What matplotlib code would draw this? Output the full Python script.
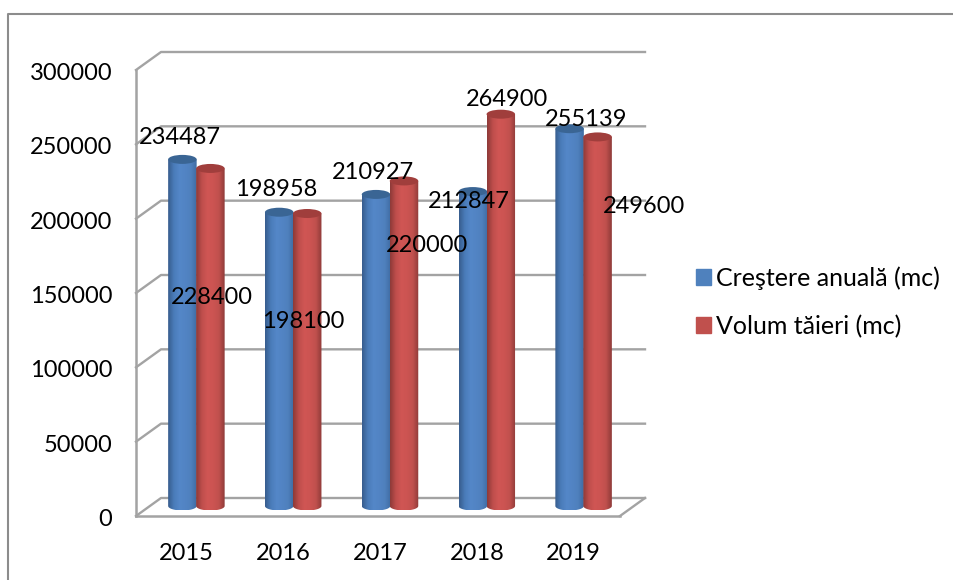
"""
3D-looking cylinder bar chart: annual growth vs. felled volume, 2015-2019.
"""
import numpy as np
import matplotlib
matplotlib.use("Agg")
import matplotlib.pyplot as plt
from matplotlib.colors import LinearSegmentedColormap
from matplotlib.lines import Line2D
from matplotlib.patches import Ellipse, Patch, Polygon
from matplotlib.transforms import ScaledTranslation

years = ["2015", "2016", "2017", "2018", "2019"]
crestere = [234487, 198958, 210927, 212847, 255139]
volum = [228400, 198100, 220000, 264900, 249600]
y_ticks = [0, 50000, 100000, 150000, 200000, 250000, 300000]
series_names = ["Creştere anuală (mc)", "Volum tăieri (mc)"]

# label offsets from the top of each cylinder, in pixels
crestere_offsets = [(-3, 22), (-3, 23), (-3, 22), (-4, -10), (17, 9)]
volum_offsets = [(1, -129), (-4, -108), (23, -65), (6, 15), (46, -70)]

W, H = 954, 580
GRID = "#a3a3a3"
FONT = "Lato"
FONT_SIZE = 17

plt.rcParams["font.family"] = [FONT, "DejaVu Sans"]

fig = plt.figure(figsize=(W / 100, H / 100), dpi=100)
ax = fig.add_axes([136 / W, 1 - 516 / H, 484 / W, 446 / H])
ax.set_xlim(-0.5, 4.5)
ax.set_ylim(0, 300000)

px_x = 5 / 484  # data units per pixel
px_y = 300000 / 446
depth_x, depth_y = 25 * px_x, 18 * px_y

# floor and walls
for tick in y_ticks:
    ax.plot([-0.5, -0.5 + depth_x, 4.5 + depth_x], [tick, tick + depth_y, tick + depth_y],
            color=GRID, lw=1.7, clip_on=False, zorder=1)
ax.plot([4.5, 4.5 + depth_x], [0, depth_y], color=GRID, lw=1.7, clip_on=False, zorder=1)


def cylinder(x, value, cmap, top_color, width=28.5 * px_x):
    # the top sits on the value scale, the foot is lifted a little off the floor
    base = 10 * px_y
    top = value + 8 * px_y
    rx, ry = width / 2, 4.5 * px_y
    t = np.linspace(np.pi, 2 * np.pi, 40)
    outline = np.column_stack([x + rx * np.cos(t), base + ry * np.sin(t)])
    outline = np.vstack([[x - rx, top], outline, [x + rx, top]])
    gradient = np.linspace(0, 1, 64).reshape(1, -1)
    im = ax.imshow(gradient, cmap=cmap, extent=[x - rx, x + rx, base - ry, top], aspect="auto", zorder=3)
    im.set_clip_path(Polygon(outline, closed=True, transform=ax.transData))
    ax.add_patch(Ellipse((x, top), width, 2 * ry, color=top_color, lw=0, zorder=3, clip_on=False))


blue_cmap = LinearSegmentedColormap.from_list("b", ["#375d8e", "#4a7cb9", "#5487c8", "#5284c4", "#4f80bd", "#3f6ca3"])
red_cmap = LinearSegmentedColormap.from_list("r", ["#8e3a38", "#bf4e4c", "#d05654", "#cc5452", "#c0504d", "#8f3b39"])

shift = 12 * px_x
half = 14 * px_x
for i, year in enumerate(years):
    cylinder(i + shift - half, crestere[i], blue_cmap, "#3a6594")
    cylinder(i + shift + half, volum[i], red_cmap, "#a03e3c")

for i in range(len(years)):
    ax.annotate(str(crestere[i]), (i + shift - half, crestere[i] + 8 * px_y), xytext=crestere_offsets[i],
                textcoords="offset pixels", ha="center", va="center", fontsize=FONT_SIZE, color="black",
                annotation_clip=False, zorder=5)
    ax.annotate(str(volum[i]), (i + shift + half, volum[i] + 8 * px_y), xytext=volum_offsets[i],
                textcoords="offset pixels", ha="center", va="center", fontsize=FONT_SIZE, color="black",
                annotation_clip=False, zorder=5)

ax.set_xticks(range(len(years)), years)
ax.set_yticks(y_ticks, [str(t) for t in y_ticks])
ax.tick_params(axis="both", length=0, labelsize=FONT_SIZE)
ax.tick_params(axis="y", pad=17)
ax.tick_params(axis="x", pad=19.5)
for lbl in ax.get_xticklabels():
    lbl.set_transform(lbl.get_transform() + ScaledTranslation(2 / 100, 0, fig.dpi_scale_trans))
for lbl in ax.get_yticklabels():
    lbl.set_transform(lbl.get_transform() + ScaledTranslation(0, -1.5 / 100, fig.dpi_scale_trans))
for side in ["top", "right"]:
    ax.spines[side].set_visible(False)
for side in ["left", "bottom"]:
    ax.spines[side].set_color(GRID)
    ax.spines[side].set_linewidth(1.8)
ax.patch.set_alpha(0)

handles = [Patch(color="#4f81bd"), Patch(color="#c0504d")]
fig.legend(handles, series_names, loc="center left", bbox_to_anchor=(696 / W, 1 - 302 / H), frameon=False,
           fontsize=18, handlelength=0.6, handleheight=0.6, handletextpad=0.22, labelspacing=1.0,
           borderpad=0, borderaxespad=0)

# outer chart frame, runs off the right and bottom of the picture
fig.add_artist(Line2D([8.5 / W, 8.5 / W, 1], [0, 1 - 14 / H, 1 - 14 / H], color="#8c8c8c", lw=1.5))

plt.savefig("out.png", dpi=100)
